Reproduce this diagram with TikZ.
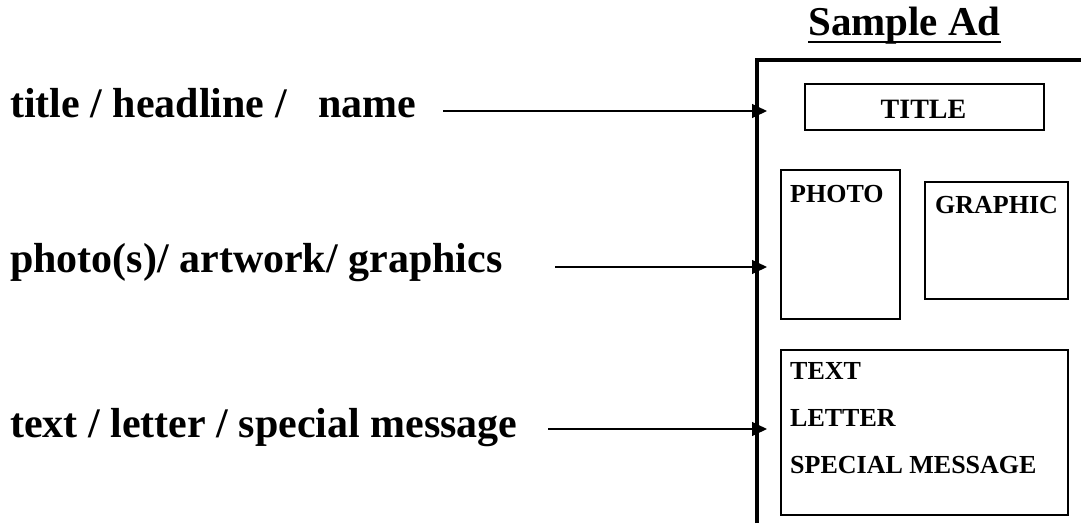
\documentclass[tikz,border=0pt]{standalone}
\usepackage{fontspec}
\setmainfont{Liberation Serif}
\usetikzlibrary{arrows.meta}
\begin{document}
\begin{tikzpicture}[x=1pt,y=-1pt,
  lbl/.style={anchor=base west,inner sep=0pt,font=\fontsize{42}{48}\selectfont\bfseries},
  boxtxt/.style={anchor=base west,inner sep=0pt,font=\fontsize{26}{30}\selectfont\bfseries},
  adbox/.style={draw,line width=1.7pt,anchor=north west,inner sep=0pt},
  pointer/.style={line width=1.3pt,-{Triangle[length=15pt,width=14pt]}},
  frame/.style={line width=3.5pt}]
\useasboundingbox (0,0) rectangle (1081,523);
% heading
\node[anchor=base west,inner sep=0pt,font=\fontsize{41}{48}\selectfont\bfseries] (head) at (808,35) {Sample Ad};
\draw[line width=2pt] ([yshift=-7pt]head.base west) -- ([yshift=-7pt]head.base east);
% ad frame
\coordinate (fb) at (757,523);
\coordinate (ft) at (757,60);
\coordinate (fr) at (1081,60);
\draw[frame] (fb) -- (ft) -- (fr);
% boxes
\node[adbox,minimum width=239pt,minimum height=46pt] (titlebox) at (804,83) {};
\node[anchor=base,inner sep=0pt,font=\fontsize{28}{32}\selectfont\bfseries] (titletxt) at (923.5,118) {TITLE};
\node[adbox,minimum width=119pt,minimum height=149pt] (photobox) at (780,169) {};
\node[boxtxt] (phototxt) at (790,202) {PHOTO};
\node[adbox,minimum width=143pt,minimum height=117pt] (graphicbox) at (924,181) {};
\node[boxtxt] (graphictxt) at (935,213) {GRAPHIC};
\node[adbox,minimum width=287pt,minimum height=165pt] (textbox) at (780,349) {};
\node[boxtxt] (t1) at (790,379) {TEXT};
\node[boxtxt] (t2) at (790,426) {LETTER};
\node[boxtxt] (t3) at (790,473) {SPECIAL MESSAGE};
% labels
\node[lbl] (l1) at (10,117) {title / headline /\ \ \ name};
\node[lbl] (l2) at (10,272) {photo(s)/ artwork/ graphics};
\node[lbl] (l3) at (10,437) {text / letter / special message};
% arrows
\coordinate (s1) at (443,111); \coordinate (e1) at (767,111);
\coordinate (s2) at (555,267); \coordinate (e2) at (767,267);
\coordinate (s3) at (548,429); \coordinate (e3) at (767,429);
\draw[pointer] (s1) -- (e1);
\draw[pointer] (s2) -- (e2);
\draw[pointer] (s3) -- (e3);
\end{tikzpicture}
\end{document}
